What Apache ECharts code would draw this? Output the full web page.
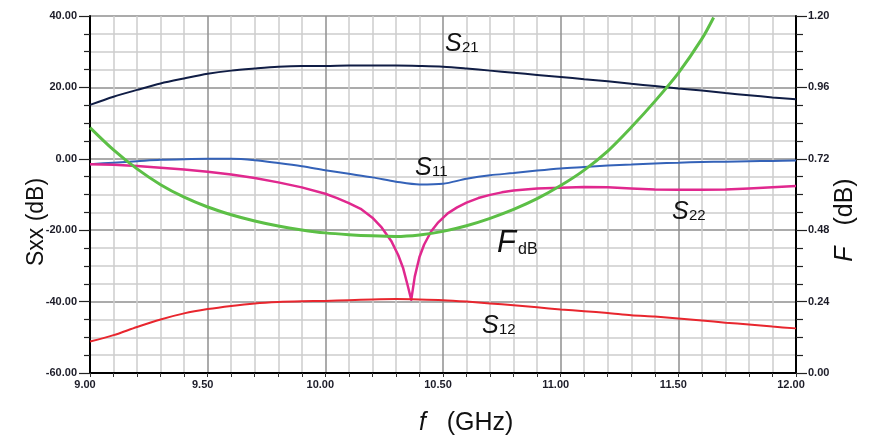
<!DOCTYPE html>
<html><head><meta charset="utf-8">
<script src="https://cdn.jsdelivr.net/npm/echarts@6/dist/echarts.min.js"></script>
<style>html,body{margin:0;padding:0;background:#fff}#c{width:877px;height:438px}</style>
</head><body><div id="c"></div>
<script>
// Frequency grid (GHz)
const freq = [9.0,9.1,9.2,9.3,9.4,9.5,9.6,9.7,9.8,9.9,10.0,10.1,10.2,10.3,10.4,10.5,10.6,10.7,10.8,10.9,11.0,11.1,11.2,11.3,11.4,11.5,11.6,11.7,11.8,11.9,12.0];
// S21 (dB)
const s21 = [15.1,17.4,19.3,21.1,22.5,23.8,24.7,25.3,25.8,26.0,26.0,26.1,26.1,26.1,26.0,25.8,25.3,24.7,24.1,23.5,22.9,22.3,21.7,21.0,20.4,19.7,19.1,18.4,17.8,17.2,16.7];
// S11 (dB)
const s11 = [-1.5,-1.1,-0.7,-0.3,-0.1,0.0,0.0,-0.4,-1.2,-2.1,-3.2,-4.2,-5.2,-6.4,-7.2,-7.0,-5.6,-4.6,-4.0,-3.3,-2.7,-2.3,-1.9,-1.6,-1.3,-1.1,-0.9,-0.8,-0.7,-0.6,-0.5];
// S12 (dB)
const s12 = [-51.2,-49.4,-47.1,-45.0,-43.3,-42.1,-41.2,-40.5,-40.1,-39.9,-39.8,-39.6,-39.4,-39.3,-39.4,-39.6,-40.0,-40.5,-41.0,-41.6,-42.2,-42.7,-43.2,-43.8,-44.2,-44.7,-45.3,-45.9,-46.4,-47.0,-47.5];
// S22 (dB), denser around the notch
const freqS22 = [9.0,9.1,9.2,9.3,9.4,9.5,9.6,9.7,9.8,9.9,10.0,10.05,10.1,10.15,10.2,10.24,10.28,10.31,10.33,10.35,10.365,10.38,10.4,10.42,10.45,10.48,10.52,10.56,10.6,10.65,10.7,10.75,10.8,10.9,11.0,11.1,11.2,11.3,11.4,11.5,11.6,11.7,11.8,11.9,12.0];
const s22 = [-1.5,-1.7,-2.0,-2.5,-3.0,-3.6,-4.4,-5.4,-6.6,-8.0,-9.8,-11.0,-12.4,-14.0,-16.5,-19.3,-23.0,-27.0,-30.5,-35.5,-39.5,-33.0,-27.5,-24.0,-20.3,-17.8,-15.3,-13.6,-12.3,-11.0,-10.1,-9.4,-8.9,-8.3,-8.1,-7.9,-8.0,-8.3,-8.6,-8.7,-8.7,-8.6,-8.3,-8.0,-7.6];
// Noise figure F (dB), right axis
const freqF = [9.0,9.1,9.2,9.3,9.4,9.5,9.6,9.7,9.8,9.9,10.0,10.1,10.2,10.3,10.4,10.5,10.6,10.7,10.8,10.9,11.0,11.1,11.2,11.3,11.4,11.5,11.6,11.65];
const fdb = [0.825,0.750,0.686,0.633,0.591,0.558,0.532,0.511,0.494,0.481,0.471,0.465,0.461,0.459,0.464,0.476,0.495,0.520,0.550,0.586,0.630,0.682,0.746,0.826,0.913,1.008,1.123,1.195];
// Axis tick settings
const xTicks = {min: 9, max: 12, step: 0.5};
const yLeftTicks = {min: -60, max: 40, step: 20};
const yRightTicks = {min: 0, max: 1.2, step: 0.24};

const pair = (xs, ys) => xs.map((x, i) => [x, ys[i]]);
const labelFont = {fontFamily: 'Liberation Sans', fontSize: 11, fontWeight: 'bold', color: '#1c1c28'};
const ff = 'Liberation Sans';

const chart = echarts.init(document.getElementById('c'), null, {renderer: 'canvas'});

function sub(x, y, big, small, bigSize, smallSize, italic) {
  return [
    {type: 'text', x: x, y: y - 0.36 * bigSize, style: {text: big, font: (italic ? 'italic ' : '') + bigSize + 'px ' + ff, fill: '#111', verticalAlign: 'middle', align: 'left'}, z: 100},
    {type: 'text', x: x + bigSize * 0.68, y: y - 0.36 * smallSize, style: {text: small, font: smallSize + 'px ' + ff, fill: '#111', verticalAlign: 'middle', align: 'left'}, z: 100}
  ];
}

chart.setOption({
  animation: false,
  backgroundColor: '#fff',
  grid: {left: 90, right: 81, top: 16, bottom: 65, containLabel: false},
  xAxis: {
    type: 'value', min: xTicks.min, max: xTicks.max, interval: xTicks.step,
    axisLine: {show: true, onZero: false, lineStyle: {color: '#000', width: 2}},
    axisTick: {show: true, length: 4, lineStyle: {color: '#333', width: 1}},
    minorTick: {show: true, splitNumber: 5, length: 4, lineStyle: {color: '#333', width: 1}},
    axisLabel: Object.assign({formatter: v => v.toFixed(2), margin: 6, padding: [0, 10, 0, 0]}, labelFont),
    splitLine: {show: true, lineStyle: {color: '#8f8f8f', width: 1.5}},
    minorSplitLine: {show: true, lineStyle: {color: '#cdcdcd', width: 1.5}}
  },
  yAxis: [{
    type: 'value', min: yLeftTicks.min, max: yLeftTicks.max, interval: yLeftTicks.step,
    axisLine: {show: true, onZero: false, lineStyle: {color: '#000', width: 2}},
    axisTick: {show: true, length: 11, lineStyle: {color: '#222', width: 1.2}},
    minorTick: {show: true, splitNumber: 4, length: 6, lineStyle: {color: '#222', width: 1.2}},
    axisLabel: Object.assign({formatter: v => v.toFixed(2), margin: 13}, labelFont),
    splitLine: {show: true, lineStyle: {color: '#8f8f8f', width: 1.5}},
    minorSplitLine: {show: true, lineStyle: {color: '#cdcdcd', width: 1.5}}
  }, {
    type: 'value', position: 'right', min: yRightTicks.min, max: yRightTicks.max, interval: yRightTicks.step,
    axisLine: {show: true, onZero: false, lineStyle: {color: '#000', width: 2}},
    axisTick: {show: true, length: 11, lineStyle: {color: '#222', width: 1.2}},
    minorTick: {show: true, splitNumber: 4, length: 7, lineStyle: {color: '#222', width: 1.2}},
    axisLabel: Object.assign({formatter: v => v.toFixed(2), margin: 12}, labelFont),
    splitLine: {show: false}
  }],
  series: [
    {name: 'S21', type: 'line', data: pair(freq, s21), showSymbol: false, smooth: 0.3, lineStyle: {color: '#101d45', width: 2}},
    {name: 'S11', type: 'line', data: pair(freq, s11), showSymbol: false, smooth: 0.3, lineStyle: {color: '#3462b8', width: 2}},
    {name: 'S22', type: 'line', data: pair(freqS22, s22), showSymbol: false, smooth: false, lineStyle: {color: '#e0288e', width: 2.5, join: 'round'}},
    {name: 'S12', type: 'line', data: pair(freq, s12), showSymbol: false, smooth: 0.3, lineStyle: {color: '#e8262e', width: 2}},
    {name: 'F', type: 'line', yAxisIndex: 1, data: pair(freqF, fdb), showSymbol: false, smooth: 0.3, lineStyle: {color: '#5cbf46', width: 3}}
  ],
  graphic: [].concat(
    sub(445, 53, 'S', '21', 25, 15, true),
    sub(415, 177, 'S', '11', 25, 15, true),
    sub(672, 221, 'S', '22', 25, 15, true),
    sub(482, 335, 'S', '12', 25, 15, true),
    [
      {type: 'text', x: 497, y: 255 - 0.36 * 31, style: {text: 'F', font: 'italic 31px ' + ff, fill: '#111', verticalAlign: 'middle', align: 'left'}, z: 100},
      {type: 'text', x: 518, y: 255 - 0.36 * 16, style: {text: 'dB', font: '16px ' + ff, fill: '#111', verticalAlign: 'middle', align: 'left'}, z: 100},
      {type: 'text', x: 37, y: 222, rotation: Math.PI / 2, style: {text: 'Sxx (dB)', font: '23px ' + ff, fill: '#111', align: 'center', verticalAlign: 'middle'}, z: 100},
      {type: 'text', x: 845, y: 220, rotation: Math.PI / 2, style: {text: '{i|F}{n|   (dB)}', align: 'center', verticalAlign: 'middle', fill: '#111', rich: {i: {font: 'italic 25px ' + ff, fill: '#111'}, n: {font: '25px ' + ff, fill: '#111'}}}, z: 100},
      {type: 'text', x: 419, y: 423, style: {text: '{i|f}{n|   (GHz)}', align: 'left', verticalAlign: 'middle', fill: '#111', rich: {i: {font: 'italic 25px ' + ff, fill: '#111'}, n: {font: '25px ' + ff, fill: '#111'}}}, z: 100}
    ]
  )
});
</script>
</body></html>
